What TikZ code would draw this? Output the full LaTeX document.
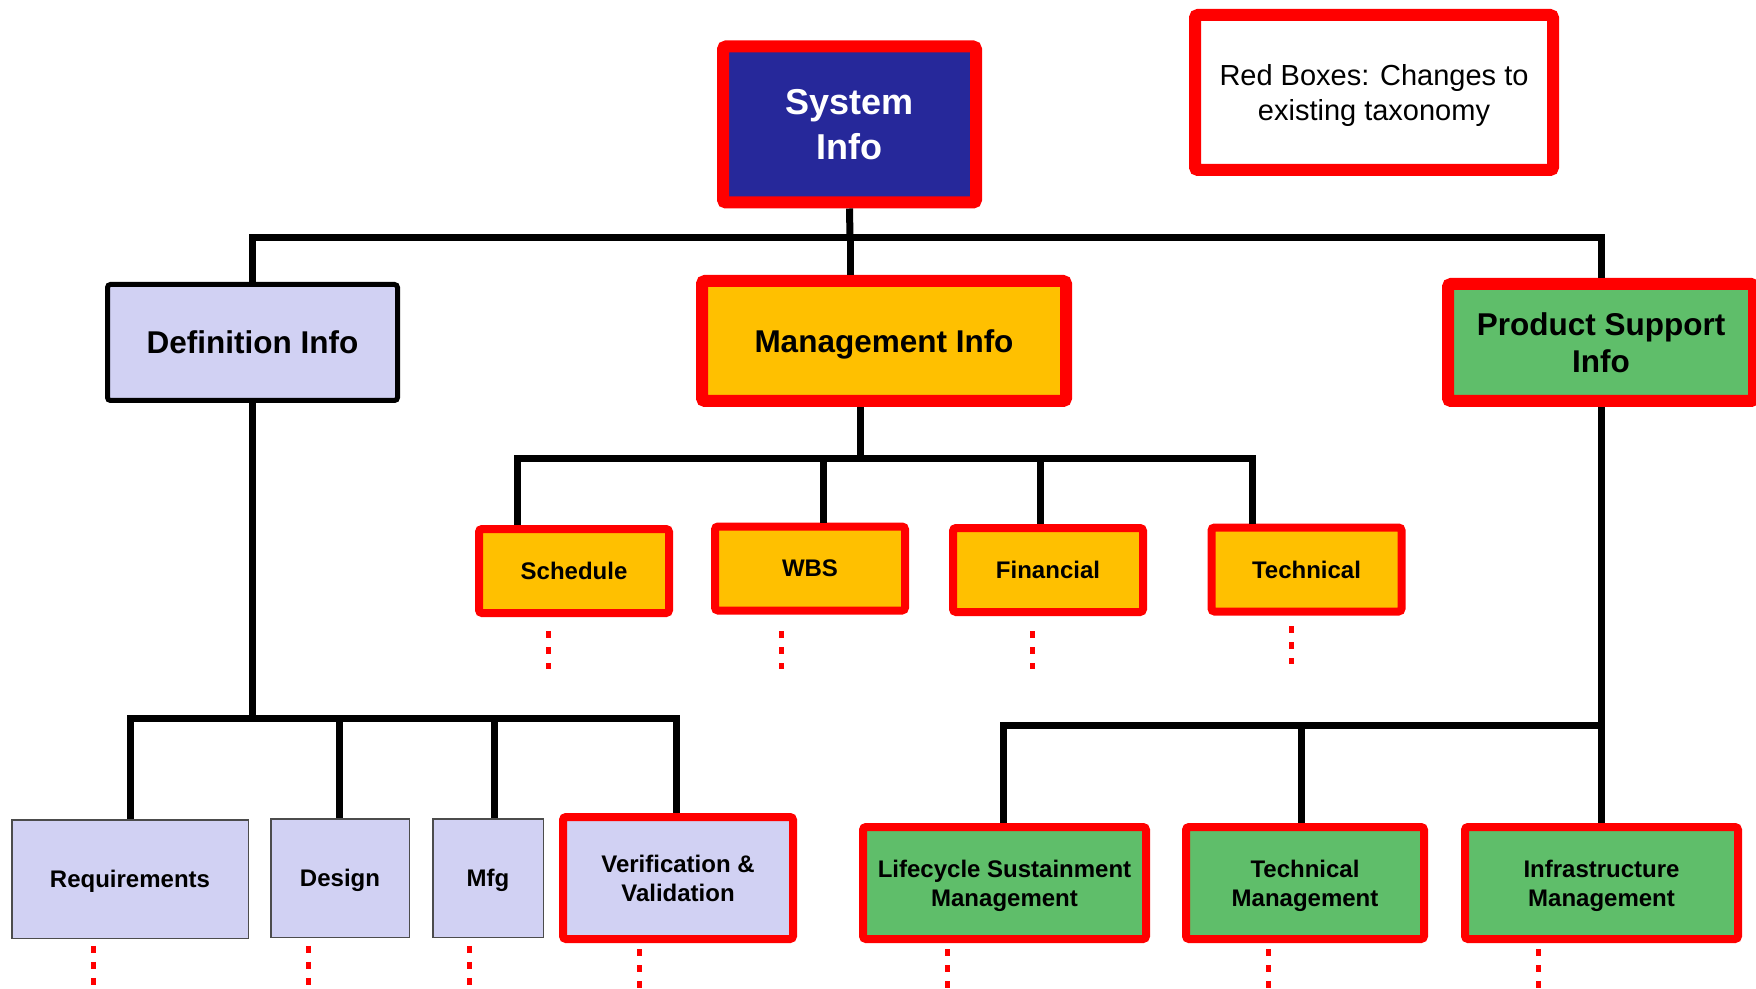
\documentclass[tikz,border=0pt]{standalone}
\usepackage{fontspec}
\setmainfont{Liberation Sans}
\definecolor{sysblue}{RGB}{38,40,154}
\definecolor{mgmtorange}{RGB}{255,192,0}
\definecolor{supgreen}{RGB}{95,190,106}
\definecolor{deflav}{RGB}{209,209,243}
\definecolor{chred}{RGB}{255,0,0}
\begin{document}
\begin{tikzpicture}[x=0.5pt,y=-0.5pt,
  box/.style={rectangle, align=center, inner sep=0pt, text depth=-0.5pt},
  changed/.style={draw=chred, rounded corners=1.5pt},
  bigfont/.style={font=\fontsize{15.75}{18.9}\selectfont\bfseries},
  smallfont/.style={font=\fontsize{12}{14.4}\selectfont\bfseries},
  topbox/.style={box, changed, line width=6pt, bigfont},
  midbox/.style={box, changed, line width=4pt, fill=mgmtorange, smallfont,
    minimum width=95pt, minimum height=42pt},
  leafbox/.style={box, draw=black!70, line width=0.75pt, fill=deflav, smallfont,
    minimum height=59.25pt},
  greenbox/.style={box, changed, line width=4pt, fill=supgreen, smallfont,
    minimum height=56pt},
  conn/.style={draw=black, line width=3.5pt, line join=miter},
  dots/.style={draw=chred, line width=2.5pt, dash pattern=on 3.5pt off 4.5pt}
]
\useasboundingbox (0,0) rectangle (1756,989);

% ---- top level ----
\node[topbox, fill=sysblue, text=white, minimum width=126.5pt, minimum height=78pt,
  font=\fontsize{18}{22.5}\selectfont\bfseries] (sys) at (849.5,124.5) {System\\Info};
\node[topbox, fill=white, minimum width=179pt, minimum height=77.5pt,
  font=\fontsize{14.5}{17.5}\selectfont] (legend) at (1374,92.5)
  {Red Boxes: Changes to\\existing taxonomy};

% ---- second level ----
\node[box, draw=black, line width=2.5pt, rounded corners=1.5pt, fill=deflav, bigfont,
  minimum width=145pt, minimum height=58pt] (def) at (252.5,342.5) {Definition Info};
\node[topbox, fill=mgmtorange, minimum width=182pt, minimum height=60pt]
  (mgmt) at (884,341) {Management Info};
\node[topbox, fill=supgreen, minimum width=153pt, minimum height=58.5pt]
  (psi) at (1601,342.5) {Product Support\\Info};

% ---- management children ----
\node[midbox] (sched) at (574,571) {Schedule};
\node[midbox] (wbs) at (810,568.5) {WBS};
\node[midbox] (fin) at (1048,570) {Financial};
\node[midbox] (tech) at (1306.5,569.5) {Technical};

% ---- definition children ----
\node[leafbox, minimum width=118.25pt] (req) at (130,879) {Requirements};
\node[leafbox, minimum width=69.25pt] (des) at (340,878) {Design};
\node[leafbox, minimum width=55.25pt] (mfg) at (488,878) {Mfg};
\node[box, changed, line width=4pt, fill=deflav, smallfont,
  minimum width=115pt, minimum height=61pt] (vv) at (678,878) {Verification \&\\Validation};

% ---- product support children ----
\node[greenbox, minimum width=141.5pt] (lsm) at (1004.5,883) {Lifecycle Sustainment\\Management};
\node[greenbox, minimum width=119pt] (tm) at (1305,883) {Technical\\Management};
\node[greenbox, minimum width=136.5pt] (im) at (1601.5,883) {Infrastructure\\Management};

% ---- top bus ----
\coordinate (tb) at (850,238);
\draw[conn] (sys.south) -- (tb);
\draw[conn] (def.north) |- (psi.north |- tb) -- (psi.north);
\draw[conn] (tb) -- (tb |- mgmt.north);

% ---- management bus ----
\coordinate (mb) at (860,459);
\coordinate (d1) at (517,459);
\coordinate (d2) at (823,459);
\coordinate (d3) at (1040,459);
\coordinate (d4) at (1252,459);
\draw[conn] (mgmt.south -| mb) -- (mb);
\draw[conn] (d1 |- sched.north) -- (d1) -- (d4) -- (d4 |- tech.north);
\draw[conn] (d2) -- (d2 |- wbs.north);
\draw[conn] (d3) -- (d3 |- fin.north);

% ---- definition bus ----
\coordinate (lb) at (253,718);
\coordinate (l1) at (130,718);
\coordinate (l2) at (339,718);
\coordinate (l3) at (494,718);
\coordinate (l4) at (676,718);
\draw[conn] (def.south) -- (def.south |- lb);
\draw[conn] (l1 |- req.north) -- (l1) -- (l4) -- (l4 |- vv.north);
\draw[conn] (l2) -- (l2 |- des.north);
\draw[conn] (l3) -- (l3 |- mfg.north);

% ---- product support bus ----
\coordinate (r1) at (1003,725);
\coordinate (r2) at (1301,725);
\draw[conn] (psi.south) -- (psi.south |- im.north);
\draw[conn] (r1 |- lsm.north) -- (r1) -- (psi.south |- r1);
\draw[conn] (r2) -- (r2 |- tm.north);

% ---- continuation marks ----
\draw[dots] ([xshift=-13pt,yshift=-7pt]sched.south) -- ++(0,38);
\draw[dots] ([xshift=-14.5pt,yshift=-8.25pt]wbs.south) -- ++(0,38);
\draw[dots] ([xshift=-8pt,yshift=-7.5pt]fin.south) -- ++(0,38);
\draw[dots] ([xshift=-7.75pt,yshift=-5.25pt]tech.south) -- ++(0,38);
\draw[dots] ([xshift=-18.5pt,yshift=-3.4pt]req.south) -- ++(0,39);
\draw[dots] ([xshift=-16pt,yshift=-3.9pt]des.south) -- ++(0,39);
\draw[dots] ([xshift=-9.5pt,yshift=-3.9pt]mfg.south) -- ++(0,39);
\draw[dots] ([xshift=-19.5pt,yshift=-3pt]vv.south) -- ++(0,39);
\draw[dots] ([xshift=-28.75pt,yshift=-3pt]lsm.south) -- ++(0,39);
\draw[dots] ([xshift=-18.5pt,yshift=-3pt]tm.south) -- ++(0,39);
\draw[dots] ([xshift=-31.75pt,yshift=-3pt]im.south) -- ++(0,39);
\end{tikzpicture}
\end{document}
